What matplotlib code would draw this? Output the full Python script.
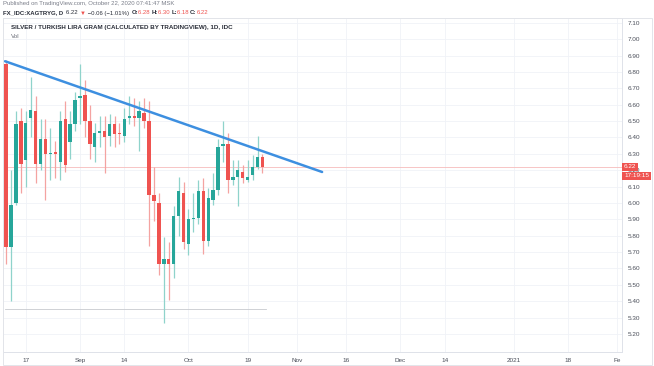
#Packages

import numpy as np
from matplotlib import pyplot as plt

plt.rcParams['font.family'] = ['Liberation Sans', 'DejaVu Sans']

#Data: daily bars (weekdays only) starting Aug 11 2020

start = '2020-08-11'
opens = [6.85, 5.73, 6.00, 6.50, 6.26, 6.52, 6.56, 6.24, 6.39, 6.300, 6.31,
         6.25, 6.51, 6.37, 6.48, 6.64, 6.66, 6.50, 6.34, 6.43, 6.44, 6.41,
         6.48, 6.43, 6.41, 6.52, 6.53, 6.52, 6.55, 6.50, 6.05, 6.00, 5.63,
         5.66, 5.63, 5.92, 6.06, 5.75, 5.90, 5.91, 6.07, 5.77, 6.02, 6.08,
         6.35, 6.36, 6.14, 6.16, 6.19, 6.14, 6.17, 6.22, 6.28]
highs = [6.87, 6.20, 6.56, 6.58, 6.56, 6.77, 6.65, 6.51, 6.51, 6.46, 6.38,
         6.56, 6.62, 6.56, 6.68, 6.85, 6.75, 6.60, 6.49, 6.53, 6.53, 6.54,
         6.53, 6.49, 6.58, 6.65, 6.64, 6.62, 6.64, 6.62, 6.22, 6.06, 5.79,
         5.76, 5.98, 6.16, 6.13, 5.96, 6.06, 6.14, 6.15, 6.09, 6.18, 6.39,
         6.50, 6.43, 6.26, 6.26, 6.23, 6.26, 6.29, 6.41, 6.30]
lows = [5.63, 5.40, 5.99, 6.06, 6.10, 6.40, 6.12, 6.20, 6.02, 6.14, 6.15,
        6.14, 6.19, 6.27, 6.44, 6.48, 6.40, 6.27, 6.25, 6.34, 6.18, 6.35,
        6.34, 6.36, 6.37, 6.48, 6.47, 6.32, 6.46, 5.74, 5.89, 5.56, 5.27,
        5.41, 5.54, 5.80, 5.72, 5.68, 5.82, 5.87, 5.69, 5.74, 5.99, 6.05,
        6.25, 6.06, 6.11, 5.98, 6.12, 6.13, 6.14, 6.21, 6.18]
closes = [5.73, 5.99, 6.48, 6.24, 6.49, 6.57, 6.24, 6.39, 6.30, 6.302, 6.30,
          6.50, 6.23, 6.48, 6.63, 6.65, 6.50, 6.36, 6.43, 6.44, 6.40, 6.48,
          6.42, 6.42, 6.51, 6.53, 6.52, 6.56, 6.50, 6.05, 6.01, 5.63, 5.66,
          5.63, 5.92, 6.07, 5.76, 5.90, 5.91, 6.07, 5.77, 6.03, 6.08, 6.34,
          6.36, 6.14, 6.16, 6.20, 6.15, 6.16, 6.22, 6.28, 6.22]

tick_dates = ['2020-08-17', '2020-09-01', '2020-09-14', '2020-10-01',
              '2020-10-19', '2020-11-01', '2020-11-16', '2020-12-01',
              '2020-12-14', '2021-01-01', '2021-01-18', '2021-02-01']
tick_names = ['17', 'Sep', '14', 'Oct', '19', 'Nov', '16', 'Dec', '14',
              '2021', '18', 'Fe']
price_ticks = np.round(np.arange(5.2, 7.101, 0.1), 2)

#Drawings on the chart (bar index, price)
trend_x = [-0.2, 64.1]
trend_y = [6.865, 6.189]
level_x = [-0.2, 52.7]
level_y = [5.35, 5.35]
last_price = 6.22

#Colors

up = '#26a69a'
down = '#ef5350'
up_wick = '#8fd3cb'
down_wick = '#f4a3a1'
txt = '#4a4e59'
dark = '#2a2e39'

#Figure

fig = plt.figure(figsize=(6.54, 3.66), dpi=100)
ax = fig.add_axes([3/654, 14/366, 619/654, 334/366])

o = np.array(opens)
h = np.array(highs)
l = np.array(lows)
c = np.array(closes)
x = np.arange(len(o))
rising = c >= o

ax.vlines(x[rising], l[rising], h[rising], color=up_wick, lw=0.9, zorder=2)
ax.vlines(x[~rising], l[~rising], h[~rising], color=down_wick, lw=0.9, zorder=2)
body_low = np.minimum(o, c)
body_h = np.maximum(np.abs(c - o), 0.006)
ax.bar(x[rising], body_h[rising], bottom=body_low[rising], width=0.68,
       color=up, zorder=3)
ax.bar(x[~rising], body_h[~rising], bottom=body_low[~rising], width=0.68,
       color=down, zorder=3)

#Trend line, level and last price line

ax.plot(trend_x, trend_y, color='#3d8fe0', lw=1.8, solid_capstyle='round', zorder=4)
ax.plot(level_x, level_y, color='#c8cacf', lw=0.6, zorder=1)
ax.axhline(last_price, color='#f6bcbb', lw=0.6, zorder=1)

#Axes

ax.set_xlim(-0.62, 124.93)
ax.set_ylim(5.09, 7.129)
ticks = np.busday_count(start, tick_dates)
ax.set_xticks(ticks)
ax.set_xticklabels(tick_names)
ax.set_yticks(price_ticks)
ax.set_yticklabels(['%.2f' % p for p in price_ticks])
ax.yaxis.tick_right()
ax.tick_params(axis='both', length=0, labelsize=4.6, colors=txt)
ax.tick_params(axis='y', pad=3.8)
ax.tick_params(axis='x', pad=4.0)
ax.grid(color='#f0f2f7', lw=0.6)
ax.set_axisbelow(True)
for s in ax.spines.values():
    s.set_color('#dfe2e9')
    s.set_linewidth(0.7)

#Last price tags on the price scale

ax.annotate('%.2f' % last_price, xy=(1.0, last_price),
            xycoords=('axes fraction', 'data'), xytext=(1.5, 0),
            textcoords='offset points', ha='left', va='center', fontsize=4.6,
            color='white',
            bbox=dict(boxstyle='square,pad=0.25', fc=down, ec='none'))
ax.annotate('17:19:15', xy=(1.0, last_price), xycoords=('axes fraction', 'data'),
            xytext=(1.5, -6.3), textcoords='offset points', ha='left',
            va='center', fontsize=4.6, color='white',
            bbox=dict(boxstyle='square,pad=0.25', fc=down, ec='none'))

#Header texts

fig.text(3/654, 1 - 4/366, 'Published on TradingView.com, October 22, 2020 07:41:47 MSK',
         fontsize=4.3, color='#7b7f8a', va='center')

parts = [('FX_IDC:XAGTRYG, D  ', dark, 'bold'),
         ('6.22 ', dark, 'normal'),
         ('\u25bc', down, 'normal'),
         (' \u22120.06 (\u22121.01%)  ', dark, 'normal'),
         ('O:', dark, 'bold'), ('6.28 ', down, 'normal'),
         ('H:', dark, 'bold'), ('6.30 ', down, 'normal'),
         ('L:', dark, 'bold'), ('6.18 ', down, 'normal'),
         ('C:', dark, 'bold'), ('6.22', down, 'normal')]

# chain the pieces one after the other
prev = fig.text(3/654, 1 - 13/366, parts[0][0], fontsize=4.3, color=parts[0][1],
                fontweight=parts[0][2], va='center')
for s, col, w in parts[1:]:
    prev = fig.add_artist(plt.Annotation(s, xy=(1, 0.5), xycoords=prev,
                                         va='center', ha='left', fontsize=4.3,
                                         color=col, fontweight=w))

ax.text(8/619, 1 - 10/334, 'SILVER / TURKISH LIRA GRAM (CALCULATED BY TRADINGVIEW), 1D, IDC',
        transform=ax.transAxes, fontsize=4.5, fontweight='bold', color=dark,
        va='center')
ax.text(8/619, 1 - 19/334, 'Vol', transform=ax.transAxes, fontsize=4.5,
        color='#6a6d78', va='center')

#Outer frame

fig.add_artist(plt.Rectangle((3/654, 1/366), 649/654, 347/366, transform=fig.transFigure,
                             fill=False, ec='#e3e5ea', lw=0.7))

fig.savefig('out.png', dpi=100)
